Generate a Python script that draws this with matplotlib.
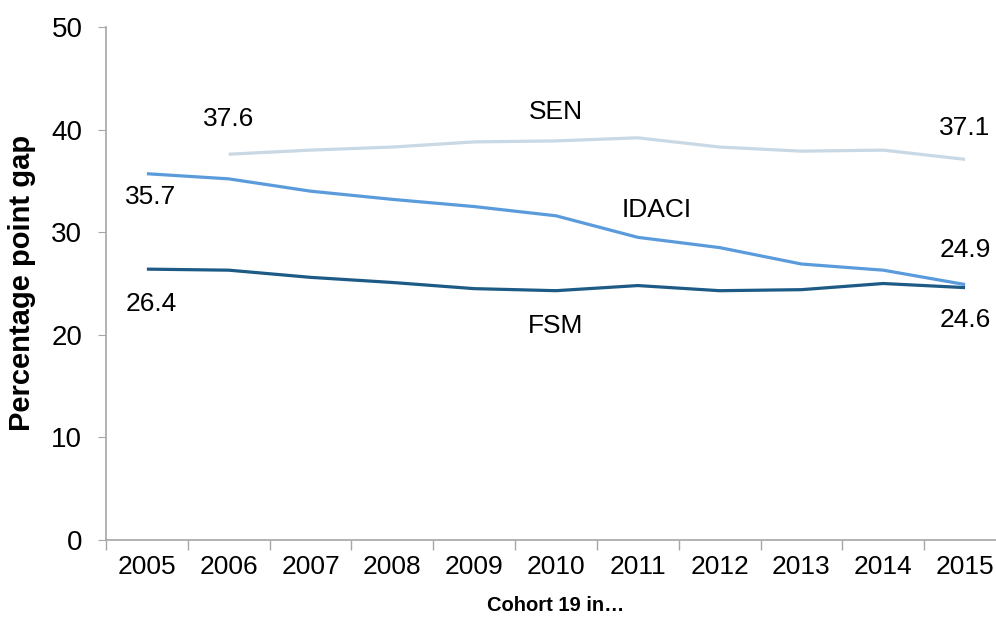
import matplotlib
matplotlib.use("Agg")
import matplotlib.pyplot as plt
import numpy as np

plt.rcParams["font.family"] = ["Liberation Sans", "DejaVu Sans"]

# datos
years = ["2005", "2006", "2007", "2008", "2009", "2010", "2011", "2012", "2013", "2014", "2015"]
sen = [np.nan, 37.6, 38.0, 38.3, 38.8, 38.9, 39.2, 38.3, 37.9, 38.0, 37.1]
idaci = [35.7, 35.2, 34.0, 33.2, 32.5, 31.6, 29.5, 28.5, 26.9, 26.3, 24.9]
fsm = [26.4, 26.3, 25.6, 25.1, 24.5, 24.3, 24.8, 24.3, 24.4, 25.0, 24.6]

x = np.arange(len(years))

fig = plt.figure(figsize=(9.96, 6.22), dpi=100)
ax = fig.add_axes([0.1064, 0.1318, 0.9036, 0.8248])

ax.plot(x, sen, color="#c8d8e4", lw=2.3, solid_capstyle="butt")
ax.plot(x, idaci, color="#5a9bdc", lw=2.3, solid_capstyle="butt")
ax.plot(x, fsm, color="#1d5a85", lw=2.3, solid_capstyle="butt")

# etiquetas
fs = 19
ax.text(1, 41.0, "37.6", ha="center", va="center", fontsize=fs)
ax.text(10, 40.2, "37.1", ha="center", va="center", fontsize=fs)
ax.text(0.05, 33.4, "35.7", ha="center", va="center", fontsize=fs)
ax.text(10, 28.3, "24.9", ha="center", va="center", fontsize=fs)
ax.text(0.05, 23.0, "26.4", ha="center", va="center", fontsize=fs)
ax.text(10, 21.4, "24.6", ha="center", va="center", fontsize=fs)
ax.text(5, 41.7, "SEN", ha="center", va="center", fontsize=fs)
ax.text(6.23, 32.2, "IDACI", ha="center", va="center", fontsize=fs)
ax.text(5, 20.9, "FSM", ha="center", va="center", fontsize=fs)

ax.set_xlim(-0.5, 10.5)
ax.set_ylim(0, 50)
ax.set_yticks(np.arange(0, 51, 10))
ax.set_xticks(x)
ax.set_xticklabels(years)
ax.set_xticks(np.arange(-0.5, 10.6, 1), minor=True)
ax.tick_params(axis="x", which="major", length=0, labelsize=fs, pad=11)
ax.tick_params(axis="x", which="minor", length=7, color="#a6a6a6", width=1)
ax.tick_params(axis="y", length=6, color="#a6a6a6", labelsize=fs + 1, pad=11)

for s in ["top", "right"]:
    ax.spines[s].set_visible(False)
for s in ["left", "bottom"]:
    ax.spines[s].set_color("#a6a6a6")
    ax.spines[s].set_linewidth(1.2)

fig.text(0.022, 0.545, "Percentage point gap", rotation=90, ha="center", va="center",
         fontsize=21, fontweight="bold")
fig.text(0.558, 0.027, "Cohort 19 in…", ha="center", va="center",
         fontsize=14.5, fontweight="bold")

fig.savefig("out.png", dpi=100)
